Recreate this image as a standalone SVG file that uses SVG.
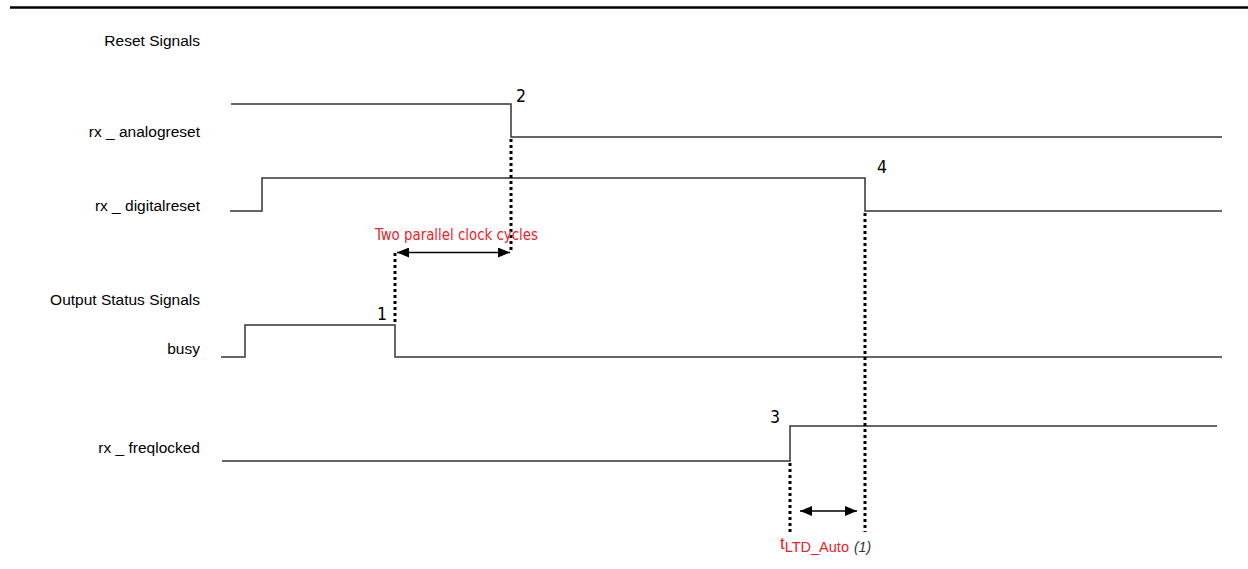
<svg xmlns="http://www.w3.org/2000/svg" width="1248" height="569" viewBox="0 0 1248 569">
<defs>
<style>
.lbl{font-family:"Liberation Sans",Arial,sans-serif;font-size:15.5px;fill:#000;text-anchor:end}
.num{font-family:"DejaVu Sans Condensed","DejaVu Sans",Verdana,sans-serif;font-size:17.5px;fill:#000}
.red{font-family:"DejaVu Sans Condensed","DejaVu Sans",sans-serif;font-size:15px;fill:#ee2027}
.sig{fill:none;stroke:#333;stroke-width:1.5}
.dot{fill:none;stroke:#000;stroke-width:3;stroke-dasharray:3 3}
.arr{fill:none;stroke:#000;stroke-width:1.5}
</style>
<marker id="ah" viewBox="0 0 12 10" refX="12" refY="5" markerWidth="12" markerHeight="10" markerUnits="userSpaceOnUse" orient="auto-start-reverse">
<path d="M0,0 L12,5 L0,10 Z" fill="#000"/>
</marker>
</defs>
<rect width="1248" height="569" fill="#fff"/>
<line x1="10" y1="7.5" x2="1248" y2="7.5" stroke="#000" stroke-width="2.5"/>

<g id="labels">
<text class="lbl" x="200" y="46">Reset Signals</text>
<text class="lbl" x="200" y="137">rx _ analogreset</text>
<text class="lbl" x="200" y="211">rx _ digitalreset</text>
<text class="lbl" x="200" y="305">Output Status Signals</text>
<text class="lbl" x="200" y="354">busy</text>
<text class="lbl" x="200" y="453">rx _  freqlocked</text>
</g>

<g id="rx_analogreset">
<polyline class="sig" points="231,104 511,104 511,137 1222,137"/>
<text class="num" x="516" y="102">2</text>
</g>
<g id="rx_digitalreset">
<polyline class="sig" points="230,211 262,211 262,178 865,178 865,211 1222,211"/>
<text class="num" x="877" y="173">4</text>
</g>
<g id="busy">
<polyline class="sig" points="221,357 245,357 245,325 395,325 395,357 1222,357"/>
<text class="num" x="377" y="320">1</text>
</g>
<g id="rx_freqlocked">
<polyline class="sig" points="222,461 790,461 790,426 1217,426"/>
<text class="num" x="770" y="423">3</text>
</g>

<g id="connectors">
<line class="dot" x1="511" y1="139" x2="511" y2="253"/>
<line class="dot" x1="395" y1="253" x2="395" y2="324"/>
<line class="arr" x1="397" y1="252.5" x2="510" y2="252.5" marker-start="url(#ah)" marker-end="url(#ah)"/>
<line class="dot" x1="865" y1="213" x2="865" y2="532"/>
<line class="dot" x1="790" y1="463" x2="790" y2="532"/>
<line class="arr" x1="800" y1="511" x2="857" y2="511" marker-start="url(#ah)" marker-end="url(#ah)"/>
</g>

<g id="annotations">
<text class="red" x="375" y="240" textLength="163" lengthAdjust="spacingAndGlyphs">Two parallel clock cycles</text>
<text x="780" y="549" font-family="Liberation Sans,Arial,sans-serif" font-size="17" fill="#ee2027">t<tspan font-size="14.5" dy="3">LTD_Auto</tspan><tspan font-size="14" font-style="italic" fill="#333" dx="5">(1)</tspan></text>
</g>
</svg>
